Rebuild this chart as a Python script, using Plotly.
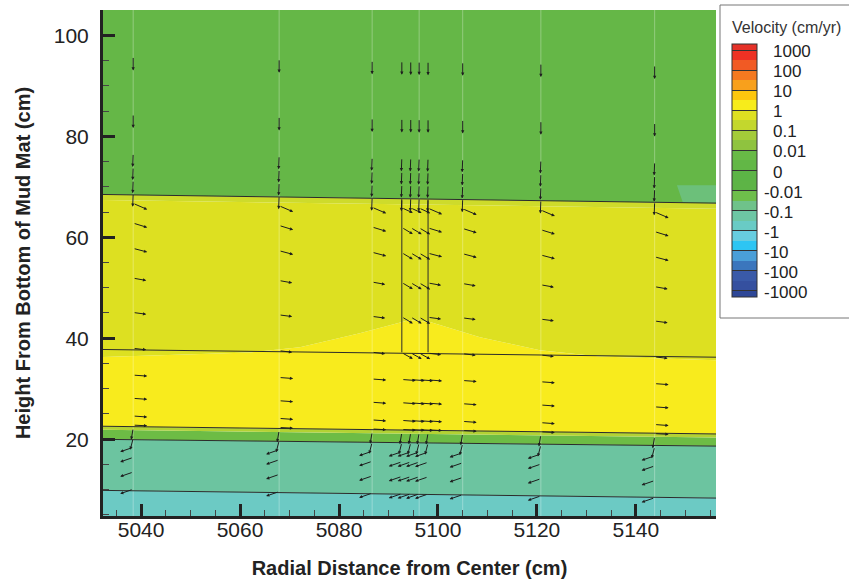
import plotly.graph_objects as go

# ---------------- data ----------------
X_RANGE = [5032.3, 5156.2]
Y_RANGE = [4.8, 105.0]
x_ticks = [5040, 5060, 5080, 5100, 5120, 5140]
y_ticks = [20, 40, 60, 80, 100]

XL, XR = 5030.0, 5160.0  # boundary end points (left / right)

# layer boundary heights (left end, right end), bottom -> top
bnd_bottom = [0.0, 0.0]
bnd_L5 = [9.9, 8.3]
bnd_L4 = [20.0, 18.6]
bnd_green_top = [21.9, 20.3]
bnd_L3 = [22.6, 21.0]
bnd_yg_light = [67.4, 65.6]
bnd_L1 = [68.5, 66.7]
bnd_top = [110.0, 110.0]
bnd_L2 = [37.8, 36.2]

# upper edge of the bright-yellow zone (hump under the wells)
hump_x = [5030.0, 5062.0, 5072.1, 5084.2, 5094.3, 5098.4, 5108.5, 5120.6, 5132.7, 5160.0]
hump_y = [36.2, 37.2, 38.2, 41.0, 43.6, 43.2, 40.2, 37.6, 36.4, 35.5]

# small patch upper right
patch_x = [5148.3, 5160.0, 5160.0, 5149.5]
patch_y = [70.3, 70.3, 66.9, 66.9]

band_colors = {
    "teal": "#6ccac4",
    "tealgreen": "#6cc4a0",
    "green_band": "#6dbc45",
    "olive": "#b3d234",
    "yellow": "#f8eb1d",
    "yellowgreen": "#dde021",
    "yg_light": "#cedb2b",
    "green_top": "#65b747",
    "patch": "#6cc07a",
}

# well (vertical) lines
well_x = [5092.7, 5098.0]
well_y = [37.2, 67.3]

# vector field: columns, rows (tail heights at first column), display vectors
col_x = [5038.4, 5067.9, 5086.7, 5092.7, 5094.5, 5096.2, 5098.0, 5105.0, 5120.8, 5143.8]
row_y = [95.8, 84.4, 76.6, 73.9, 71.3, 68.7,
         66.7, 62.8, 57.8, 51.9, 45.1, 38.0,
         32.7, 28.1, 24.6, 22.8,
         22.2, 20.2,
         18.4, 16.4, 13.5, 10.1]
row_u = [0.0, 0.0, -0.1, -0.1, -0.1, -0.1,
         2.83, 2.83, 2.83, 2.63, 2.63, 2.63,
         2.83, 2.83, 2.83, 2.83,
         -0.4, -0.6,
         -2.63, -2.63, -2.63, -2.63]
row_v = [-2.77, -2.77, -2.67, -2.57, -2.57, -2.67,
         -1.19, -0.85, -0.73, -0.46, -0.34, -0.30,
         -0.20, -0.20, -0.20, -0.14,
         -2.30, -2.30,
         -0.89, -0.89, -0.89, -0.89]
# steeper vectors in the yellow-green layer for the three columns between the wells
center_cols = [5092.7, 5094.5, 5096.2]
center_rows = [6, 7, 8, 9, 10, 11]
center_u = [2.22, 2.22, 2.22, 2.22, 2.22, 2.22]
center_v = [-1.0, -1.3, -1.3, -1.3, -1.3, -1.2]
row_dip = -0.016  # layer dip of the rows (height per cm)

faint_cols = [5038.4, 5067.9, 5086.7, 5096.2, 5105.0, 5120.8, 5143.8]

# legend (colour key)
legend_labels = ["-1000", "-100", "-10", "-1", "-0.1", "-0.01", "0",
                 "0.01", "0.1", "1", "10", "100", "1000"]
legend_band_colors = [  # bottom -> top, half-decade bands
    "#2e4797",
    "#35509f", "#3a5aa8", "#3b76bd", "#4a9fd8", "#2dc5f3", "#67cde0",
    "#69cbc5", "#6dc6a4", "#6fc28a", "#6ebe4b", "#5db446", "#5cb446",
    "#62b746", "#68ba46", "#8fc33f", "#a4cb39", "#c3d72d", "#dee021",
    "#f7ec1b", "#fdc70e", "#f8a01c", "#f47920", "#f15a24", "#ee3124",
    "#e53128",
]
legend_edges = [-0.3] + [k * 0.5 for k in range(25)] + [12.3]

# ---------------- figure ----------------
fig = go.Figure()


def line_pts(b):
    return [XL, XR], list(b)


def band(bottom, top, color):
    bx, by = bottom
    tx, ty = top
    xs = list(bx) + list(tx)[::-1] + [bx[0]]
    ys = list(by) + list(ty)[::-1] + [by[0]]
    fig.add_trace(go.Scatter(x=xs, y=ys, fill="toself", fillcolor=color, mode="none",
                             line=dict(width=0), hoverinfo="skip", showlegend=False))


hump = (hump_x, hump_y)
band(line_pts(bnd_bottom), line_pts(bnd_L5), band_colors["teal"])
band(line_pts(bnd_L5), line_pts(bnd_L4), band_colors["tealgreen"])
band(line_pts(bnd_L4), line_pts(bnd_green_top), band_colors["green_band"])
band(line_pts(bnd_green_top), line_pts(bnd_L3), band_colors["olive"])
band(line_pts(bnd_L3), hump, band_colors["yellow"])
band(hump, line_pts(bnd_yg_light), band_colors["yellowgreen"])
band(line_pts(bnd_yg_light), line_pts(bnd_L1), band_colors["yg_light"])
band(line_pts(bnd_L1), line_pts(bnd_top), band_colors["green_top"])
fig.add_trace(go.Scatter(x=patch_x + [patch_x[0]], y=patch_y + [patch_y[0]], fill="toself",
                         fillcolor=band_colors["patch"], mode="none", hoverinfo="skip",
                         showlegend=False))

# faint vertical grid lines at the vector columns
for cx in faint_cols:
    fig.add_trace(go.Scatter(x=[cx, cx], y=[0, 110], mode="lines",
                             line=dict(color="rgba(255,255,255,0.3)", width=1),
                             hoverinfo="skip", showlegend=False))

# layer boundary lines
for b in [bnd_L5, bnd_L4, bnd_L3, bnd_L2, bnd_L1]:
    fig.add_trace(go.Scatter(x=[XL, XR], y=b, mode="lines",
                             line=dict(color="#2b2b2b", width=1),
                             hoverinfo="skip", showlegend=False))
for wx in well_x:
    fig.add_trace(go.Scatter(x=[wx, wx], y=well_y, mode="lines",
                             line=dict(color="#2b2b2b", width=1),
                             hoverinfo="skip", showlegend=False))

# vectors
annotations = []
for cx in col_x:
    for i, ry in enumerate(row_y):
        u, v = row_u[i], row_v[i]
        if cx in center_cols and i in center_rows:
            j = center_rows.index(i)
            u, v = center_u[j], center_v[j]
        ty = ry + row_dip * (cx - col_x[0])
        annotations.append(dict(x=cx + u, y=ty + v, ax=cx, ay=ty, xref="x", yref="y",
                                axref="x", ayref="y", text="", showarrow=True,
                                arrowhead=2, arrowsize=0.65, arrowwidth=1,
                                arrowcolor="#1e1e1e", standoff=0, startstandoff=0))

# colour key (hidden carrier trace for the colour bar)
cs = []
span = legend_edges[-1] - legend_edges[0]
for k, c in enumerate(legend_band_colors):
    a = (legend_edges[k] - legend_edges[0]) / span
    b = (legend_edges[k + 1] - legend_edges[0]) / span
    cs.append([a, c])
    cs.append([b, c])

PL, PR, PT, PB = 103, 716, 10, 516
W, H = PR - PL, PB - PT


def px_x(p):
    return (p - PL) / W


def px_y(p):
    return (PB - p) / H


fig.add_trace(go.Scatter(
    x=[4000], y=[50], mode="markers", hoverinfo="skip", showlegend=False,
    marker=dict(size=1, color=[0], colorscale=cs, cmin=legend_edges[0], cmax=legend_edges[-1],
                showscale=True,
                colorbar=dict(thickness=25, thicknessmode="pixels", len=253, lenmode="pixels",
                              x=px_x(732), xanchor="left", y=px_y(44), yanchor="top",
                              xpad=0, ypad=0, outlinewidth=1, outlinecolor="#333",
                              borderwidth=0, ticks="inside", ticklen=25, tickwidth=1,
                              tickcolor="#333", tickvals=list(range(13)),
                              showticklabels=False))))

TOP_T = legend_edges[-1]
PX_PER_UNIT = 253 / span
for k, lab in enumerate(legend_labels):
    py = 44 + (TOP_T - k) * PX_PER_UNIT + 1.5
    xpos = 762 if lab.startswith("-") else 771
    annotations.append(dict(x=px_x(xpos), y=px_y(py), xref="paper", yref="paper",
                            text=lab, showarrow=False, xanchor="left", yanchor="middle",
                            font=dict(family="Arial, Liberation Sans", size=17, color="#222")))
annotations.append(dict(x=px_x(730), y=px_y(27), xref="paper", yref="paper",
                        text="Velocity (cm/yr)", showarrow=False, xanchor="left",
                        yanchor="middle",
                        font=dict(family="Arial, Liberation Sans", size=16, color="#333")))

fig.add_shape(type="rect", xref="paper", yref="paper", x0=px_x(720), x1=px_x(870),
              y0=px_y(318), y1=px_y(5), line=dict(color="#777", width=1), layer="above")

axis_font = dict(family="Arial, Liberation Sans", size=21, color="#222")
title_font = dict(family="Arial, Liberation Sans", size=20, color="#222")

fig.update_layout(
    width=849, height=579,
    margin=dict(l=PL, r=849 - PR, t=PT, b=579 - PB, autoexpand=False),
    paper_bgcolor="white", plot_bgcolor="white",
    annotations=annotations,
    xaxis=dict(range=X_RANGE, tickvals=x_ticks, ticks="inside", ticklen=12, tickwidth=3,
               tickcolor="#222", showline=True, linewidth=3, linecolor="#222",
               showgrid=False, zeroline=False, tickfont=axis_font, ticklabelstandoff=-7,
               automargin=False,
               minor=dict(ticks="inside", ticklen=6, tickwidth=1, tickcolor="#444",
                          dtick=5, showgrid=False),
               title=dict(text="<b>Radial Distance from Center (cm)</b>", font=title_font,
                          standoff=26)),
    yaxis=dict(range=Y_RANGE, tickvals=y_ticks, ticks="inside", ticklen=12, tickwidth=3,
               tickcolor="#222", showline=True, linewidth=3, linecolor="#222",
               showgrid=False, zeroline=False, tickfont=axis_font, ticklabelstandoff=7,
               automargin=False,
               minor=dict(ticks="inside", ticklen=6, tickwidth=1, tickcolor="#444",
                          dtick=5, showgrid=False),
               title=dict(text="<b>Height From Bottom of Mud Mat (cm)</b>", font=title_font,
                          standoff=18)),
)

fig.write_html("out.html")
